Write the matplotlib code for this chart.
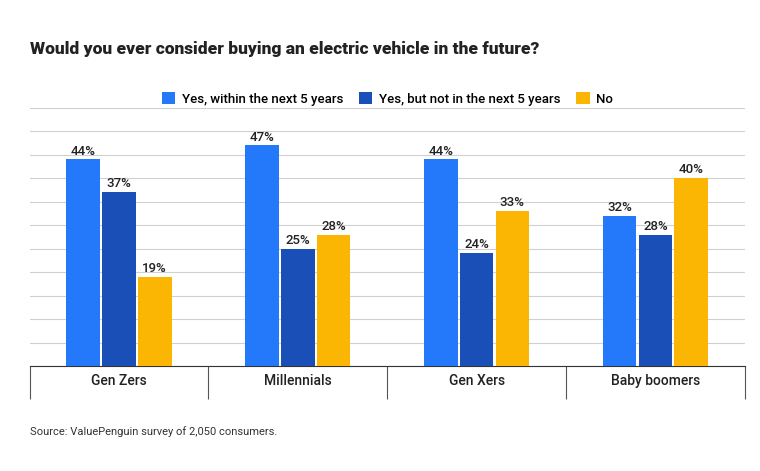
import matplotlib.pyplot as plt
import numpy as np

plt.rcParams['font.family'] = ['Roboto', 'DejaVu Sans']

categories = ["Gen Zers", "Millennials", "Gen Xers", "Baby boomers"]
series_names = ["Yes, within the next 5 years", "Yes, but not in the next 5 years", "No"]
within_5 = [44, 47, 44, 32]
later = [37, 25, 24, 28]
never = [19, 28, 33, 40]
colors = ["#2478FA", "#1B4FB8", "#FBB603"]

fig = plt.figure(figsize=(7.6, 4.71), dpi=100)
ax = fig.add_axes([0.039, 0.223, 0.941, 0.548])

x = np.arange(len(categories))
w = 0.2
for i, (vals, name, c) in enumerate(zip([within_5, later, never], series_names, colors)):
    bars = ax.bar(x + (i - 1) * w, vals, w * 0.94, color=c, label=name, zorder=3)
    for b, v in zip(bars, vals):
        ax.text(b.get_x() + b.get_width() / 2, v + 0.4, f"{v}%", ha='center', va='bottom',
                fontsize=9.5, color='#222222', fontweight='medium')

ax.set_xlim(-0.5, 3.5)
ax.set_ylim(0, 55)
ax.set_yticks(np.arange(0, 56, 5))
ax.yaxis.grid(True, color='#d0d0d0', lw=0.8, zorder=0)
ax.tick_params(axis='y', left=False, labelleft=False)
for s in ['top', 'right', 'left']:
    ax.spines[s].set_visible(False)
ax.spines['bottom'].set_color('#333333')

# category separators
ax.set_xticks(np.arange(-0.5, 4, 1))
ax.set_xticklabels([])
ax.tick_params(axis='x', length=24, color='#555555', width=0.8)
for xi, cat in zip(x, categories):
    ax.text(xi, -3.3, cat, ha='center', va='center', fontsize=10, color='#222222',
            fontweight='medium')

fig.text(0.039, 0.895, "Would you ever consider buying an electric vehicle in the future?",
         fontsize=12.5, fontweight='heavy', color='#222222', va='center')
fig.legend(loc='center', bbox_to_anchor=(0.51, 0.79), ncol=3, frameon=False,
           prop={'size': 9.5, 'weight': 'medium'},
           handlelength=1.0, handleheight=1.0, columnspacing=1.2, handletextpad=0.5)
fig.text(0.039, 0.083, "Source: ValuePenguin survey of 2,050 consumers.", fontsize=8,
         color='#333333', va='center')

fig.savefig("out.png", dpi=100)
